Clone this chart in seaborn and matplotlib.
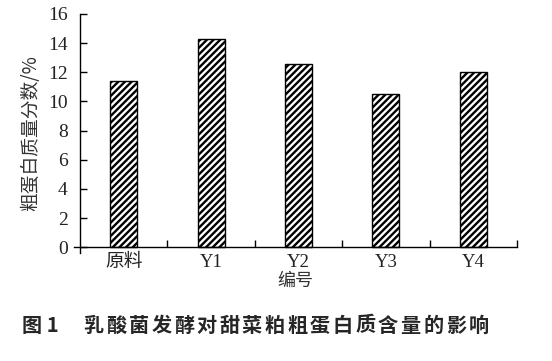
import matplotlib
matplotlib.use("Agg")
import matplotlib.pyplot as plt
import seaborn as sns
import pandas as pd

categories = ["原料", "Y1", "Y2", "Y3", "Y4"]
values = [11.4, 14.3, 12.6, 10.5, 12.05]
yticks = [0, 2, 4, 6, 8, 10, 12, 14, 16]

sns.set_theme(style="white")
plt.rcParams['font.family'] = ['Liberation Serif', 'Noto Sans CJK SC']
plt.rcParams['hatch.linewidth'] = 1.7

SERIF = ['Liberation Serif', 'Noto Sans CJK SC']
CJK = ['Noto Sans CJK SC', 'Liberation Serif']

df = pd.DataFrame({"编号": categories, "值": values})

fig = plt.figure(figsize=(5.52, 3.61), dpi=100)
ax = fig.add_axes([74/552, 1 - 253/361, (517-74)/552, (253-14)/361])

sns.barplot(data=df, x="编号", y="值", ax=ax, color="white", width=0.31,
            edgecolor="black", linewidth=1.0, hatch="/////", saturation=1)

ax.set_xlim(-0.57, 4.5)
ax.set_ylim(-0.4, 16)
ax.spines['left'].set_position(('data', -0.5))
ax.spines['bottom'].set_position(('data', 0))
for s in ['top', 'right']:
    ax.spines[s].set_visible(False)
for s in ['left', 'bottom']:
    ax.spines[s].set_color('black')
    ax.spines[s].set_linewidth(1.0)

ax.set_yticks(yticks)
ax.set_yticklabels([str(t) for t in yticks], fontsize=14, family=SERIF, color='#222222')
ax.tick_params(axis='y', direction='in', length=5, width=1, color='black', left=True, pad=9)

ax.set_xticks(range(len(categories)))
ax.set_xticklabels(categories, fontsize=13.5, family=SERIF, color='#222222')
ax.tick_params(axis='x', which='major', length=0, pad=5)
ax.set_xticks([0.5, 1.5, 2.5, 3.5, 4.5], minor=True)
ax.tick_params(axis='x', which='minor', direction='in', length=5, width=1, color='black', bottom=True)

ax.set_xlabel("编号", fontsize=13, family=CJK, labelpad=0, color='#333333')
ax.set_ylabel("粗蛋白质量分数/%", fontsize=13.5, family=CJK, labelpad=5, color='#333333')

title_chars = list("乳酸菌发酵对甜菜粕粗蛋白质含量的影响")
fig.text(22/552, 1 - 325/361, "图 1", fontsize=14.5, fontweight='bold',
         family=CJK, va='center', ha='left')
x0, x1 = 82, 490
step = (x1 - x0) / len(title_chars)
for i, ch in enumerate(title_chars):
    fig.text((x0 + step * (i + 0.5)) / 552, 1 - 325/361, ch, fontsize=14.5, fontweight='bold',
             family=CJK, va='center', ha='center')

fig.savefig("out.png", dpi=100)
